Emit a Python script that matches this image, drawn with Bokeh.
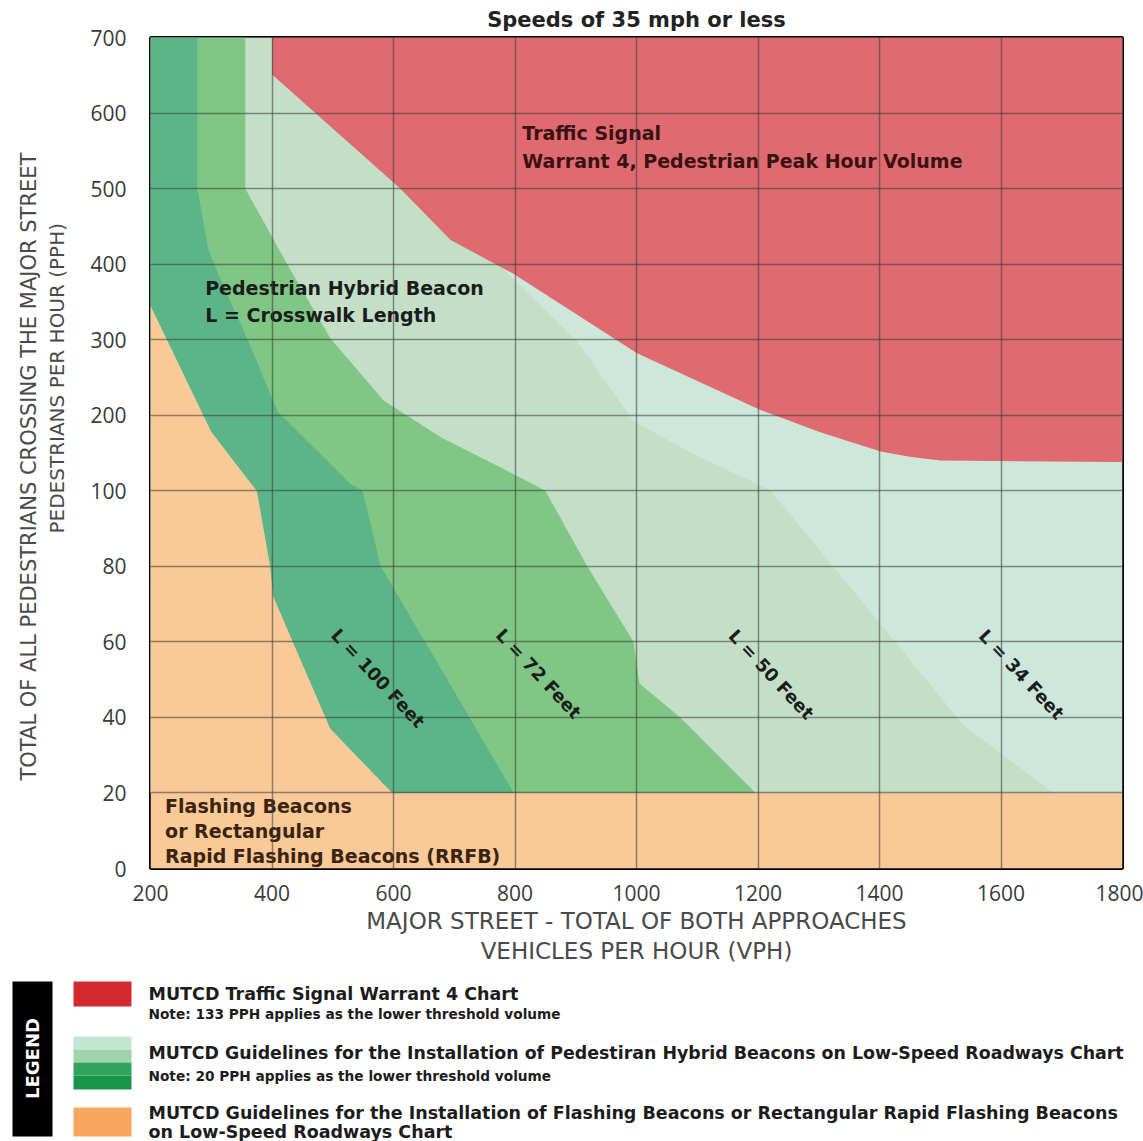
from bokeh.plotting import figure
from bokeh.models import Range1d, FixedTicker, Label, Title
from bokeh.embed import file_html
from bokeh.resources import INLINE
from math import radians

FONT = "DejaVu Sans"
TICK_FONT = "Open Sans"

# ---------------- data (VPH on x, PPH on y) ----------------
x_ticks = [200, 400, 600, 800, 1000, 1200, 1400, 1600, 1800]
y_tick_values = [0, 20, 40, 60, 80, 100, 200, 300, 400, 500, 600, 700]

X_MIN, X_MAX = 200, 1800
Y_MAX = 700
PHB_MIN_PPH = 20          # lower threshold of the PHB chart

# Traffic signal warrant 4 boundary (area above is red)
red_x = [400, 400, 611, 694, 798, 1001, 1204, 1300, 1402, 1450, 1500, 1800]
red_y = [700, 651, 500, 432, 387, 282, 207, 178, 152, 145, 140, 138]

# PHB curve L = 50 ft (area left/below it)
l50_x = [400, 760, 903, 995, 1090, 1188, 1221, 1385, 1538, 1686]
l50_y = [700, 410, 297, 192, 150, 113, 100, 68, 38, 20]

# PHB curve L = 72 ft
l72_x = [356, 356, 425, 496, 584, 680, 776, 850, 919, 995, 1005, 1072, 1196]
l72_y = [700, 500, 400, 302, 219, 170, 131, 100, 80, 60, 49, 40, 20]

# PHB curve L = 100 ft
l100_x = [277, 277, 295, 310, 360, 409, 529, 549, 579, 798]
l100_y = [700, 500, 420, 390, 300, 205, 109, 100, 80, 20]

# RRFB boundary (area left/below it is orange)
rrfb_x = [200, 300, 365, 375, 397, 402, 496, 598]
rrfb_y = [345, 178, 110, 100, 80, 72, 37, 20]

# ---------------- scale: 0-100 by 20, then 100-700 by 100, equal spacing ----------------
def ty(v):
    return v / 20.0 if v <= 100 else 5.0 + (v - 100) / 100.0

def tys(vals):
    return [ty(v) for v in vals]

C_RED = "#df6a70"
C_L34 = "#cde7da"
C_L50 = "#c4dfc7"
C_L72 = "#80c785"
C_L100 = "#5cb589"
C_ORANGE = "#f9c998"

MAIN_H = 968
p = figure(width=1143, height=MAIN_H, x_range=Range1d(X_MIN, X_MAX), y_range=Range1d(0, ty(Y_MAX)),
           output_backend="svg", toolbar_location=None,
           min_border_left=150, min_border_right=21, min_border_top=37, min_border_bottom=100)

p.title.text = "Speeds of 35 mph or less"
p.title.align = "center"
p.title.text_font = FONT
p.title.text_font_size = "21px"
p.title.text_font_style = "bold"
p.title.text_color = "#222222"
p.title.standoff = 11

# L = 34 ft (lightest) zone: whole PHB area
p.patch([X_MIN, X_MAX, X_MAX, X_MIN], tys([PHB_MIN_PPH, PHB_MIN_PPH, Y_MAX, Y_MAX]),
        fill_color=C_L34, line_color=None)
# L = 50 ft zone
p.patch([X_MIN] + l50_x + [X_MIN], tys([Y_MAX] + l50_y + [PHB_MIN_PPH]),
        fill_color=C_L50, line_color=None)
# L = 72 ft zone
p.patch([X_MIN] + l72_x + [X_MIN], tys([Y_MAX] + l72_y + [PHB_MIN_PPH]),
        fill_color=C_L72, line_color=None)
# L = 100 ft zone
p.patch([X_MIN] + l100_x + [X_MIN], tys([Y_MAX] + l100_y + [PHB_MIN_PPH]),
        fill_color=C_L100, line_color=None)
# RRFB zone
p.patch(rrfb_x + [X_MAX, X_MAX, X_MIN],
        tys(rrfb_y + [PHB_MIN_PPH, 0, 0]),
        fill_color=C_ORANGE, line_color=None)
# Traffic signal zone
p.patch(red_x + [X_MAX], tys(red_y + [Y_MAX]), fill_color=C_RED, line_color=None)

# axes
p.xaxis.ticker = FixedTicker(ticks=x_ticks)
y_pos = [ty(v) for v in y_tick_values]
p.yaxis.ticker = FixedTicker(ticks=y_pos)
p.yaxis.major_label_overrides = {pos: str(v) for pos, v in zip(y_pos, y_tick_values)}
for ax in (p.xaxis, p.yaxis):
    ax.axis_line_color = None
    ax.major_tick_line_color = None
    ax.minor_tick_line_color = None
    ax.major_label_text_font = TICK_FONT
    ax.major_label_text_font_size = "21px"
    ax.major_label_text_color = "#3a3a3a"
p.yaxis.major_label_standoff = 18
p.xaxis.major_label_standoff = 10
# blank spacer label so the axis titles sit further left
p.yaxis.axis_label = " "
p.yaxis.axis_label_text_font_size = "8px"
p.yaxis.axis_label_standoff = 6

p.xgrid.ticker = FixedTicker(ticks=x_ticks)
p.ygrid.ticker = FixedTicker(ticks=y_pos)
for g in (p.xgrid, p.ygrid):
    g.grid_line_color = "#3a3a3a"
    g.grid_line_alpha = 0.55
    g.grid_line_width = 1.5
    g.level = "overlay"

p.outline_line_color = "black"
p.outline_line_width = 3
p.background_fill_color = "white"

# axis titles as side-panel titles
def side_title(text, side, standoff, align="center", offset=0, size="20px"):
    t = Title(text=text, align=align, text_font=FONT, text_font_size=size,
              text_font_style="normal", text_color="#4a4a4a", standoff=standoff, offset=offset)
    p.add_layout(t, side)

side_title("MAJOR STREET - TOTAL OF BOTH APPROACHES", "below", 4, size="23px")
side_title("VEHICLES PER HOUR (VPH)", "below", 0, size="23px")
side_title("PEDESTRIANS PER HOUR (PPH)", "left", 2, align="left", offset=335)
side_title("TOTAL OF ALL PEDESTRIANS CROSSING THE MAJOR STREET", "left", 1, align="left",
           offset=88, size="21px")

def lab(text, x, y, size="19px", color="#1c1c1c", align="left", angle=0.0):
    p.add_layout(Label(x=x, y=y, text=text, text_font=FONT,
                       text_font_size=size, text_font_style="bold",
                       text_color=color, text_align=align, text_baseline="middle",
                       angle=angle))

# region labels
lab("Traffic Signal", 812, 9.73, color="#3a1212")
lab("Warrant 4, Pedestrian Peak Hour Volume", 812, 9.37, color="#3a1212")
lab("Pedestrian Hybrid Beacon", 290, 7.69)
lab("L = Crosswalk Length", 290, 7.33)
lab("Flashing Beacons", 224, 0.83, color="#3a2410")
lab("or Rectangular", 224, 0.50, color="#3a2410")
lab("Rapid Flashing Beacons (RRFB)", 224, 0.17, color="#3a2410")
ang = radians(-47)
lab("L = 100 Feet", 575, 2.52, size="18px", align="center", angle=ang)
lab("L = 72 Feet", 839, 2.58, size="18px", align="center", angle=ang)
lab("L = 50 Feet", 1222, 2.57, size="18px", align="center", angle=ang)
lab("L = 34 Feet", 1634, 2.57, size="18px", align="center", angle=ang)

# ---------------- legend panel (own root, page-pixel coordinates) ----------------
LH = 1141 - MAIN_H
OFF = MAIN_H - 965   # keep legend items at their page positions
leg = figure(width=1143, height=LH, x_range=Range1d(0, 1143), y_range=Range1d(LH + OFF, OFF),
             output_backend="svg", toolbar_location=None, min_border=0,
             x_axis_type=None, y_axis_type=None)
leg.grid.visible = False
leg.outline_line_color = None

leg.quad(left=[12], right=[52], top=[16], bottom=[171], fill_color="black", line_color=None)
leg.add_layout(Label(x=32, y=93, text="LEGEND", text_font=FONT, text_font_size="18px",
                     text_font_style="bold", text_color="white", text_align="center",
                     text_baseline="middle", angle=radians(90)))
leg.quad(left=[73], right=[131], top=[16], bottom=[41], fill_color="#d42a2f", line_color=None)
band_cols = ["#c4e5cf", "#9fd4ad", "#2ea55b", "#18954b"]
band_top = [71, 84, 97, 110]
band_bot = [84, 97, 110, 124]
leg.quad(left=[73] * 4, right=[131] * 4, top=band_top, bottom=band_bot,
         fill_color=band_cols, line_color=None)
leg.quad(left=[73], right=[131], top=[142], bottom=[171], fill_color="#f7a75f", line_color=None)

def leg_lab(text, y, size):
    leg.add_layout(Label(x=148, y=y, text=text, text_font=FONT, text_font_size=size,
                         text_font_style="bold", text_color="#1c1c1c", text_align="left",
                         text_baseline="middle"))

leg_lab("MUTCD Traffic Signal Warrant 4 Chart", 28, "17.5px")
leg_lab("Note: 133 PPH applies as the lower threshold volume", 48, "13.7px")
leg_lab("MUTCD Guidelines for the Installation of Pedestiran Hybrid Beacons on Low-Speed Roadways Chart", 87, "17.4px")
leg_lab("Note: 20 PPH applies as the lower threshold volume", 110, "13.7px")
leg_lab("MUTCD Guidelines for the Installation of Flashing Beacons or Rectangular Rapid Flashing Beacons", 147, "17.5px")
leg_lab("on Low-Speed Roadways Chart", 166, "17.5px")

open("out.html", "w").write(file_html([p, leg], INLINE))
